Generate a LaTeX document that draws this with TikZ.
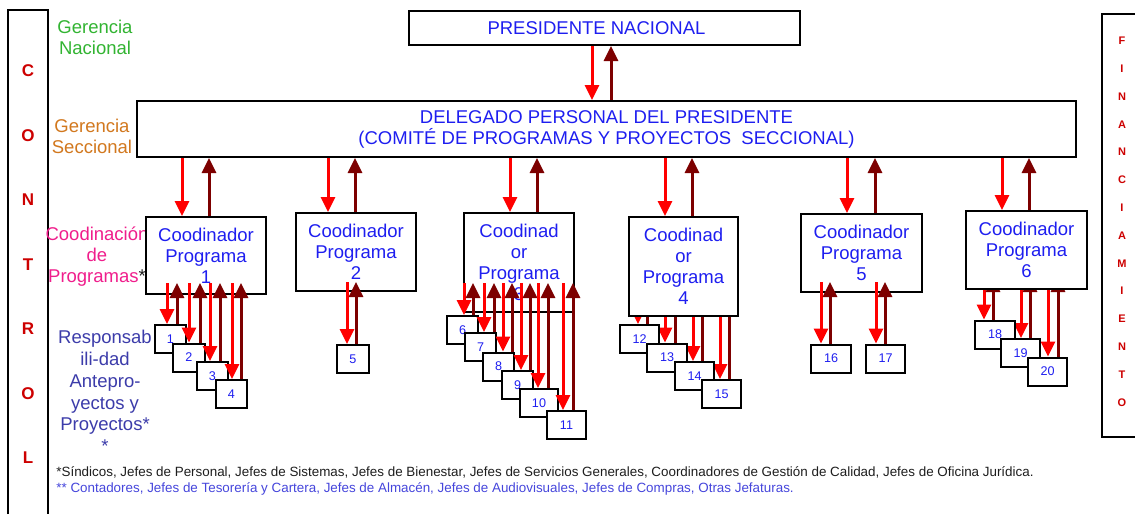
\documentclass[tikz,border=0pt]{standalone}
\usepackage{fontspec}
\setmainfont{Liberation Sans}
\usetikzlibrary{arrows.meta,backgrounds}
\definecolor{txtblue}{RGB}{30,30,240}
\definecolor{arrred}{RGB}{255,0,0}
\definecolor{arrdark}{RGB}{125,0,0}
\definecolor{ltred}{RGB}{205,0,0}
\definecolor{gergreen}{RGB}{50,180,50}
\definecolor{gerorange}{RGB}{210,120,30}
\definecolor{coomag}{RGB}{240,30,140}
\definecolor{respblue}{RGB}{60,60,170}
\definecolor{fnblack}{RGB}{30,30,30}
\definecolor{fnblue}{RGB}{70,70,220}

\begin{document}
\begin{tikzpicture}[x=0.5pt,y=-0.5pt,
    box/.style={draw,line width=1pt,fill=white,text=txtblue,align=center,inner sep=0pt,
      font=\fontsize{9.25}{10.5}\selectfont},
    sbox/.style={draw,line width=1pt,fill=white,text=txtblue,inner sep=0pt,
      minimum height=14pt,font=\fontsize{6.3}{7}\selectfont},
    dn/.style={draw=arrred,line width=1.5pt,-{Triangle[width=7pt,length=7.5pt]}},
    up/.style={draw=arrdark,line width=1.5pt,-{Triangle[width=7pt,length=7.5pt]}},
    side/.style={align=center,font=\fontsize{9.25}{10.5}\selectfont},
    note/.style={anchor=west,inner sep=0pt,font=\fontsize{6.7}{7.5}\selectfont},
    letter/.style={text=ltred,inner sep=0pt,font=\bfseries\fontsize{8.5}{10}\selectfont}]
\useasboundingbox (0,0) rectangle (1135,514);
\begin{scope}[on background layer]
  \fill[white] (0,0) rectangle (1135,514);
\end{scope}

% columnas laterales
\draw[line width=1pt] (8,514) -- (8,10) -- (48,10) -- (48,514);
\foreach \l [count=\i from 0] in {C,O,N,T,R,O,L}
  \node[letter] (ctl\i) at (28,71+64.5*\i) {\l};
\draw[line width=1pt] (1135,14) -- (1102,14) -- (1102,437) -- (1135,437);
\foreach \l [count=\i from 0] in {F,I,N,A,N,C,I,A,M,I,E,N,T,O}
  \node[letter,font=\bfseries\fontsize{5.5}{6}\selectfont] (fin\i) at (1122,41+27.8*\i) {\l};

% niveles
\node[side,text=gergreen] (gn) at (95,37.5) {Gerencia\\Nacional};
\node[side,text=gerorange] (gs) at (92,136.5) {Gerencia\\Seccional};
\node[side,text=coomag] (cp) at (97,257) {Coodinación\\de\\Programas{\color{fnblack}*}};
\node[side,text=respblue,font=\fontsize{9.25}{10.9}\selectfont] (rp) at (105,391.5)
  {Responsab\\ili-dad\\Antepro-\\yectos y\\Proyectos*\\*};

% presidente y delegado
\node[box,minimum width=195.5pt,minimum height=17pt] (pres) at (604.5,28) {PRESIDENTE NACIONAL\hspace*{8pt}};
\node[box,minimum width=469.5pt,minimum height=28pt] (del) at (606.5,129)
  {DELEGADO PERSONAL DEL PRESIDENTE\\(COMITÉ DE PROGRAMAS Y PROYECTOS\ \ SECCIONAL)};
\draw[dn] (pres.south -| 592,0) -- (del.north -| 592,0);
\draw[up] (del.north -| 611,0) -- (pres.south -| 611,0);

% coordinadores
\node[box,minimum width=60pt,minimum height=38.5pt] (c1) at (206,255.5) {Coodinador\\Programa\\1};
\node[box,minimum width=60pt,minimum height=39pt] (c2) at (356,252) {Coodinador\\Programa\\2};
\node[box,minimum width=55pt,minimum height=49.5pt] (c3) at (519,262.5) {Coodinad\\or\\Programa\\3};
\node[box,minimum width=54.5pt,minimum height=49.5pt] (c4) at (683.5,266.5) {Coodinad\\or\\Programa\\4};
\node[box,minimum width=60.5pt,minimum height=39pt] (c5) at (861.5,253) {Coodinador\\Programa\\5};
\node[box,minimum width=60.5pt,minimum height=39pt] (c6) at (1026.5,250) {Coodinador\\Programa\\6};
\foreach \c/\r/\d in {1/182/209,2/328/355,3/510/537,4/665/692,5/847/875,6/1002/1029} {
  \draw[dn] (del.south -| \r,0) -- (c\c.north -| \r,0);
  \draw[up] (c\c.north -| \d,0) -- (del.south -| \d,0);
}
\foreach \c/\s in {1/6,2/5,3/15,4/16.5,5/5.5,6/6.5}
  \coordinate (t\c) at ([yshift=\s pt]c\c.south);

% responsables
\foreach \n/\x/\y/\w in {1/170.5/339/15.5, 2/189/357.5/16, 3/212.5/376/15.5, 4/231.5/394/15.5,
    5/353/359/16,
    6/462.5/330/15.5, 7/480.5/347/15.5, 8/498.5/366.5/15.5, 9/517.5/385/15.5, 10/539/403/19, 11/566.5/425/19.5,
    12/639.5/339/19.5, 13/667/357.5/20, 14/694.5/376/19.5, 15/721.5/394/19.5,
    16/831/358.5/20, 17/885.5/358.5/19.5,
    18/995/334.5/20, 19/1020.5/353/19.5, 20/1047.5/371.5/19.5}
  \node[sbox,minimum width=\w pt] (s\n) at (\x,\y) {\n};

\foreach \c/\n/\r/\d in {1/1/167/177, 1/2/189/200, 1/3/210/220, 1/4/232/241, 2/5/347/356,
    3/6/464/473, 3/7/484/494, 3/8/503/512, 3/9/521/530, 3/10/538/548, 3/11/563/573,
    5/16/821/830, 5/17/876/885} {
  \draw[dn] (t\c -| \r,0) -- (s\n.north -| \r,0);
  \draw[up] (s\n.north -| \d,0) -- (t\c -| \d,0);
}
\begin{scope}[on background layer]
  \foreach \c/\n/\r/\d in {4/12/638/647, 4/13/665/675, 4/14/693/702, 4/15/720/729,
      6/18/984/993, 6/19/1021/1030, 6/20/1048/1058} {
    \draw[dn] (t\c -| \r,0) -- (s\n.north -| \r,0);
    \draw[up] (s\n.north -| \d,0) -- (t\c -| \d,0);
  }
\end{scope}

% notas
\node[note,text=fnblack] (fn1) at (56,472)
  {*Síndicos, Jefes de Personal, Jefes de Sistemas, Jefes de Bienestar, Jefes de Servicios Generales, Coordinadores de Gestión de Calidad, Jefes de Oficina Jurídica.};
\node[note,text=fnblue] (fn2) at (56,489)
  {** Contadores, Jefes de Tesorería y Cartera, Jefes de Almacén, Jefes de Audiovisuales, Jefes de Compras, Otras Jefaturas.};
\end{tikzpicture}
\end{document}
